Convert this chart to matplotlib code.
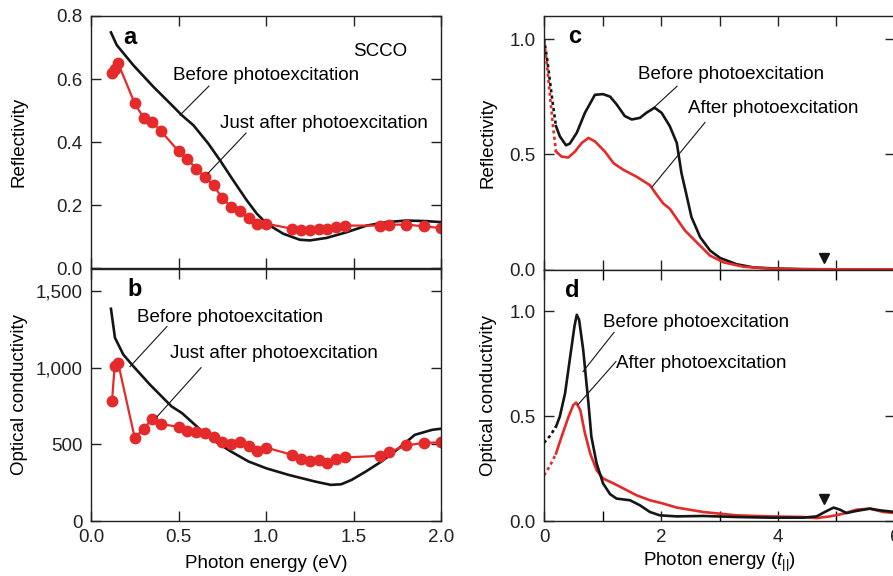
import matplotlib
matplotlib.use("Agg")
import matplotlib.pyplot as plt
from matplotlib.ticker import FuncFormatter, MultipleLocator

plt.rcParams['font.family'] = ['Liberation Sans', 'DejaVu Sans']
plt.rcParams['font.size'] = 13.5
plt.rcParams['mathtext.fontset'] = 'custom'
plt.rcParams['mathtext.rm'] = 'Liberation Sans'
plt.rcParams['mathtext.it'] = 'Liberation Sans:italic'

RED = '#e42a2a'
BLK = '#151515'

# ---------------- Panel a: reflectivity (eV) ----------------
a_before_x = [0.114, 0.147, 0.242, 0.356, 0.463, 0.518, 0.585, 0.670, 0.737, 0.813, 0.890,
              0.947, 1.004, 1.099, 1.194, 1.251, 1.347, 1.461, 1.575, 1.690, 1.804, 1.918, 2.0]
a_before_y = [0.748, 0.708, 0.644, 0.576, 0.517, 0.486, 0.454, 0.396, 0.343, 0.279, 0.216,
              0.174, 0.142, 0.110, 0.091, 0.089, 0.097, 0.115, 0.136, 0.147, 0.152, 0.150, 0.147]

red_x = [0.12, 0.135, 0.155, 0.25, 0.30, 0.35, 0.40, 0.50, 0.55, 0.60, 0.65, 0.70, 0.75, 0.80,
         0.85, 0.90, 0.95, 1.00, 1.15, 1.20, 1.25, 1.30, 1.35, 1.40, 1.45, 1.65, 1.70, 1.80,
         1.90, 2.00]
a_after_y = [0.620, 0.633, 0.650, 0.523, 0.478, 0.465, 0.435, 0.372, 0.348, 0.316, 0.290,
             0.263, 0.224, 0.195, 0.181, 0.161, 0.142, 0.142, 0.126, 0.121, 0.121, 0.124,
             0.124, 0.131, 0.136, 0.136, 0.139, 0.139, 0.134, 0.128]

# ---------------- Panel b: optical conductivity (eV) ----------------
b_before_x = [0.114, 0.137, 0.185, 0.242, 0.337, 0.46, 0.52, 0.615, 0.71, 0.80, 0.90, 1.0,
              1.13, 1.28, 1.37, 1.43, 1.49, 1.57, 1.66, 1.76, 1.85, 1.95, 2.0]
b_before_y = [1387, 1197, 1087, 1011, 891, 749, 705, 607, 520, 454, 389, 345,
              301, 258, 236, 240, 269, 323, 389, 476, 563, 596, 603]
b_after_y = [781, 1011, 1033, 542, 603, 666, 635, 614, 590, 579, 576, 546, 513, 502,
             513, 487, 458, 480, 432, 404, 393, 400, 382, 404, 415, 426, 448, 494, 510, 514]

# ---------------- Panel c: reflectivity (t) ----------------
c_before_x = [0.205, 0.27, 0.376, 0.44, 0.56, 0.70, 0.87, 1.01, 1.13, 1.24, 1.38, 1.50, 1.64,
              1.75, 1.89, 2.01, 2.15, 2.27, 2.35, 2.43, 2.52, 2.67, 2.84, 3.01, 3.29, 3.58,
              3.98, 4.43, 5.0, 6.0]
c_before_y = [0.622, 0.578, 0.539, 0.546, 0.593, 0.680, 0.758, 0.761, 0.750, 0.717, 0.666,
              0.651, 0.658, 0.680, 0.702, 0.680, 0.622, 0.549, 0.418, 0.330, 0.228, 0.140,
              0.082, 0.050, 0.023, 0.009, 0.004, 0.0015, 0.0008, 0.0005]
c_after_x = [0.205, 0.30, 0.416, 0.53, 0.645, 0.76, 0.87, 1.04, 1.19, 1.36, 1.58, 1.81, 1.93,
             2.04, 2.15, 2.27, 2.41, 2.61, 2.84, 3.07, 3.41, 3.86, 4.43, 5.0, 6.0]
c_after_y = [0.512, 0.490, 0.486, 0.512, 0.549, 0.571, 0.556, 0.512, 0.461, 0.432, 0.403,
             0.366, 0.323, 0.286, 0.264, 0.220, 0.169, 0.118, 0.060, 0.031, 0.012, 0.004,
             0.001, 0.0008, 0.0005]
c_before_ext_x = [0.0, 0.05, 0.10, 0.15, 0.205]
c_before_ext_y = [1.0, 0.92, 0.82, 0.72, 0.622]
c_after_ext_x = [0.0, 0.05, 0.10, 0.15, 0.205]
c_after_ext_y = [1.0, 0.89, 0.76, 0.63, 0.512]

# ---------------- Panel d: optical conductivity (t) ----------------
d_before_x = [0.205, 0.27, 0.36, 0.44, 0.52, 0.56, 0.60, 0.67, 0.76, 0.81, 0.90, 1.01, 1.13,
              1.24, 1.47, 1.64, 1.81, 1.98, 2.27, 2.72, 3.29, 3.86, 4.43, 4.66, 4.80, 4.95,
              5.06, 5.17, 5.34, 5.57, 5.74, 6.0]
d_before_y = [0.450, 0.498, 0.609, 0.769, 0.928, 0.984, 0.960, 0.817, 0.561, 0.402, 0.274,
              0.179, 0.128, 0.107, 0.099, 0.075, 0.043, 0.027, 0.022, 0.024, 0.019, 0.016,
              0.016, 0.022, 0.043, 0.064, 0.054, 0.038, 0.048, 0.059, 0.051, 0.043]
d_after_x = [0.205, 0.30, 0.42, 0.50, 0.55, 0.62, 0.70, 0.79, 0.90, 1.01, 1.19, 1.36, 1.58,
             1.81, 2.04, 2.27, 2.72, 3.29, 3.86, 4.43, 4.66, 4.89, 5.12, 5.34, 5.57, 5.80, 6.0]
d_after_y = [0.322, 0.402, 0.498, 0.553, 0.565, 0.530, 0.418, 0.322, 0.242, 0.203, 0.179,
             0.155, 0.123, 0.099, 0.083, 0.064, 0.043, 0.027, 0.022, 0.019, 0.014, 0.022,
             0.035, 0.054, 0.059, 0.043, 0.038]
d_before_ext_x = [0.0, 0.1, 0.205]
d_before_ext_y = [0.373, 0.405, 0.450]
d_after_ext_x = [0.0, 0.1, 0.205]
d_after_ext_y = [0.218, 0.262, 0.322]

marker_x = [4.78]
c_marker_y = [0.048]
d_marker_y = [0.105]

W, H = 893, 576
fig = plt.figure(figsize=(W / 100, H / 100), dpi=100)


def px_axes(l, r, t, b):
    return fig.add_axes([l / W, 1 - b / H, (r - l) / W, (b - t) / H])


ax_a = px_axes(91, 441, 16, 268.5)
ax_b = px_axes(91, 441, 268.5, 521)
ax_c = px_axes(544, 895, 16, 269.5)
ax_d = px_axes(544, 895, 269.5, 521)

for ax in (ax_a, ax_b, ax_c, ax_d):
    ax.tick_params(direction='in', top=True, right=True, length=7, width=1.0, pad=6,
                   labelsize=13.5, colors='#222222', which='major')
    ax.tick_params(direction='in', top=True, right=True, length=7, width=1.0, which='minor')
    for s in ax.spines.values():
        s.set_linewidth(1.0)
        s.set_color('#222222')

lw = 1.9
# Panel a
ax_a.plot(a_before_x, a_before_y, color=BLK, lw=lw)
ax_a.plot(red_x, a_after_y, color=RED, lw=1.6, marker='o', ms=7.5, mec=RED, mfc=RED)
ax_a.set_xlim(0, 2.0)
ax_a.set_ylim(0, 0.8)
ax_a.xaxis.set_major_locator(MultipleLocator(0.5))
ax_a.yaxis.set_major_locator(MultipleLocator(0.2))
ax_a.yaxis.set_major_formatter(FuncFormatter(lambda v, p: f'{v:.1f}'))
ax_a.tick_params(labelbottom=False)
ax_a.set_ylabel('Reflectivity')
ax_a.yaxis.set_label_coords(-0.18, 0.5)
ax_a.text(0.183, 0.733, 'a', fontsize=17, fontweight='bold', va='center', ha='left')
ax_a.text(1.497, 0.686, 'SCCO', va='center', ha='left')
ax_a.text(0.469, 0.610, 'Before photoexcitation', va='center', ha='left')
ax_a.plot([0.674, 0.509], [0.578, 0.486], color=BLK, lw=0.8)
ax_a.text(0.737, 0.460, 'Just after photoexcitation', va='center', ha='left')
ax_a.plot([0.886, 0.669], [0.429, 0.302], color=BLK, lw=0.8)

# Panel b
ax_b.plot(b_before_x, b_before_y, color=BLK, lw=lw)
ax_b.plot(red_x, b_after_y, color=RED, lw=1.6, marker='o', ms=7.5, mec=RED, mfc=RED)
ax_b.set_xlim(0, 2.0)
ax_b.set_ylim(0, 1650)
ax_b.xaxis.set_major_locator(MultipleLocator(0.5))
ax_b.yaxis.set_major_locator(MultipleLocator(500))
ax_b.xaxis.set_major_formatter(FuncFormatter(lambda v, p: f'{v:.1f}'))
ax_b.yaxis.set_major_formatter(FuncFormatter(lambda v, p: f'{int(round(v)):,}'))
ax_b.set_xlabel('Photon energy (eV)', labelpad=6)
ax_b.set_ylabel('Optical conductivity')
ax_b.yaxis.set_label_coords(-0.18, 0.5)
ax_b.text(0.211, 1513, 'b', fontsize=17, fontweight='bold', va='center', ha='left')
ax_b.text(0.263, 1330, 'Before photoexcitation', va='center', ha='left')
ax_b.plot([0.434, 0.223], [1271, 1009], color=BLK, lw=0.8)
ax_b.text(0.451, 1094, 'Just after photoexcitation', va='center', ha='left')
ax_b.plot([0.629, 0.377], [1002, 681], color=BLK, lw=0.8)

# Panel c
ax_c.plot(c_before_ext_x, c_before_ext_y, color=BLK, lw=lw, ls=(0, (1.2, 1.2)))
ax_c.plot(c_after_ext_x, c_after_ext_y, color=RED, lw=lw, ls=(1.2, (1.2, 1.2)))
ax_c.plot(c_before_x, c_before_y, color=BLK, lw=lw)
ax_c.plot(c_after_x, c_after_y, color=RED, lw=lw)
ax_c.plot(marker_x, c_marker_y, ls='none', marker='v', ms=7, color=BLK)
ax_c.set_xlim(0, 6)
ax_c.set_ylim(0, 1.1)
ax_c.xaxis.set_major_locator(MultipleLocator(1))
ax_c.yaxis.set_major_locator(MultipleLocator(0.5))
ax_c.yaxis.set_major_formatter(FuncFormatter(lambda v, p: f'{v:.1f}'))
ax_c.tick_params(labelbottom=False)
ax_c.set_ylabel('Reflectivity')
ax_c.yaxis.set_label_coords(-0.134, 0.5)
ax_c.text(0.41, 1.013, 'c', fontsize=17, fontweight='bold', va='center', ha='left')
ax_c.text(1.607, 0.847, 'Before photoexcitation', va='center', ha='left')
ax_c.plot([2.274, 1.880], [0.795, 0.703], color=BLK, lw=0.8)
ax_c.text(2.462, 0.699, 'After photoexcitation', va='center', ha='left')
ax_c.plot([2.752, 1.846], [0.638, 0.358], color=BLK, lw=0.8)

# Panel d
ax_d.plot(d_before_ext_x, d_before_ext_y, color=BLK, lw=lw, ls=(0, (1.2, 1.2)))
ax_d.plot(d_after_ext_x, d_after_ext_y, color=RED, lw=lw, ls=(0, (1.2, 1.2)))
ax_d.plot(d_after_x, d_after_y, color=RED, lw=lw)
ax_d.plot(d_before_x, d_before_y, color=BLK, lw=lw)
ax_d.plot(marker_x, d_marker_y, ls='none', marker='v', ms=7, color=BLK)
ax_d.set_xlim(0, 6)
ax_d.set_ylim(0, 1.2)
ax_d.xaxis.set_major_locator(MultipleLocator(2))
ax_d.xaxis.set_minor_locator(MultipleLocator(1))
ax_d.yaxis.set_major_locator(MultipleLocator(0.5))
ax_d.yaxis.set_major_formatter(FuncFormatter(lambda v, p: f'{v:.1f}'))
ax_d.set_xlabel(r'Photon energy ($t_{||}$)', labelpad=3)
ax_d.set_ylabel('Optical conductivity')
ax_d.yaxis.set_label_coords(-0.134, 0.5)
ax_d.text(0.36, 1.10, 'd', fontsize=17, fontweight='bold', va='center', ha='left')
ax_d.text(1.009, 0.947, 'Before photoexcitation', va='center', ha='left')
ax_d.plot([1.197, 0.667], [0.90, 0.713], color=BLK, lw=0.8)
ax_d.text(1.231, 0.751, 'After photoexcitation', va='center', ha='left')
ax_d.plot([1.231, 0.581], [0.761, 0.555], color=BLK, lw=0.8)

fig.savefig('out.png', dpi=100)
